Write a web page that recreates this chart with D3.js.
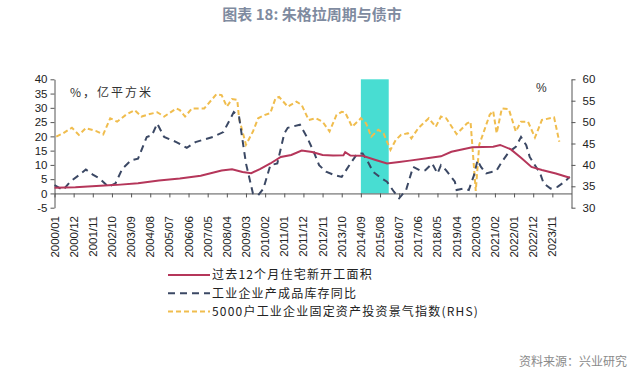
<!DOCTYPE html>
<html>
<head>
<meta charset="utf-8">
<script src="https://cdn.jsdelivr.net/npm/d3@7/dist/d3.min.js"></script>
<style>
  body { margin: 0; background: #fff; }
  svg { display: block; font-family: "Liberation Sans", "Noto Sans CJK SC", sans-serif; }
</style>
</head>
<body>
<svg id="chart" width="638" height="371"></svg>
<script>

// 过去12个月住宅新开工面积 (亿平方米, LHS)
var housingStarts = [
  ["2000/01", 2.0], ["2001/01", 2.2], ["2002/01", 2.6], ["2003/01", 3.0], ["2004/01", 3.6],
  ["2005/01", 4.5], ["2006/01", 5.2], ["2007/01", 6.2], ["2008/01", 8.0], ["2008/07", 8.5],
  ["2009/01", 7.5], ["2009/06", 7.1], ["2009/11", 8.5], ["2010/05", 10.5], ["2010/11", 12.8],
  ["2011/05", 13.5], ["2011/11", 15.0], ["2012/05", 14.5], ["2012/11", 13.5], ["2013/05", 13.3],
  ["2013/11", 13.4], ["2013/12", 14.5], ["2014/03", 13.3], ["2014/10", 13.2], ["2015/05", 11.8],
  ["2015/12", 10.5], ["2016/07", 11.0], ["2017/01", 11.5], ["2018/01", 12.5], ["2018/07", 13.0],
  ["2019/01", 14.6], ["2020/01", 16.2], ["2021/01", 16.4], ["2021/05", 17.0], ["2021/11", 15.5],
  ["2022/05", 12.5], ["2022/11", 9.3], ["2023/05", 8.2], ["2024/01", 7.0], ["2024/09", 5.5]
];

// 工业企业产成品库存同比 (%, LHS)
var inventoryYoY = [
  ["2000/01", 2.9], ["2000/06", 1.2], ["2000/10", 4.1], ["2001/03", 6.4], ["2001/07", 8.4],
  ["2001/11", 6.6], ["2002/03", 5.2], ["2002/08", 2.3], ["2002/12", 3.5], ["2003/04", 8.7],
  ["2003/09", 11.6], ["2004/01", 12.2], ["2004/06", 19.8], ["2004/09", 20.4], ["2004/12", 24.5],
  ["2005/04", 19.8], ["2005/11", 18.0], ["2006/05", 16.0], ["2006/10", 18.0], ["2007/08", 19.8],
  ["2008/02", 21.5], ["2008/08", 28.5], ["2008/11", 27.0], ["2009/03", 10.5], ["2009/07", 0.0],
  ["2009/10", -0.6], ["2010/01", 1.7], ["2010/05", 9.9], ["2010/09", 10.5], ["2011/01", 21.0],
  ["2011/03", 23.0], ["2011/10", 24.1], ["2012/02", 19.8], ["2012/06", 14.5], ["2012/09", 9.9],
  ["2013/01", 7.6], ["2013/06", 6.4], ["2013/10", 5.8], ["2014/03", 10.5], ["2014/07", 14.0],
  ["2014/10", 14.0], ["2015/01", 11.1], ["2015/04", 7.6], ["2015/09", 5.2], ["2015/12", 4.1],
  ["2016/04", 0.6], ["2016/07", -1.7], ["2016/11", 1.2], ["2017/03", 9.3], ["2017/07", 8.1],
  ["2017/10", 8.1], ["2018/02", 10.5], ["2018/05", 7.0], ["2018/07", 9.9], ["2018/10", 8.1],
  ["2019/03", 4.1], ["2019/04", 1.2], ["2019/08", 1.7], ["2019/11", 1.2], ["2020/02", 6.4],
  ["2020/04", 11.6], ["2020/06", 9.3], ["2020/09", 7.0], ["2020/12", 7.5], ["2021/03", 8.1],
  ["2021/06", 11.1], ["2021/10", 14.5], ["2022/02", 16.3], ["2022/05", 19.8], ["2022/08", 16.9],
  ["2022/10", 12.8], ["2023/01", 9.9], ["2023/04", 7.0], ["2023/06", 3.5], ["2023/10", 1.7],
  ["2024/02", 2.3], ["2024/06", 4.1], ["2024/09", 5.8]
];

// 5000户工业企业固定资产投资景气指数 (RHS)
var investIndex = [
  ["2000/02", 46.6], ["2000/06", 47.4], ["2000/11", 48.7], ["2001/03", 47.0], ["2001/07", 48.6],
  ["2002/01", 47.9], ["2002/05", 47.1], ["2002/09", 50.9], ["2003/01", 50.1], ["2003/06", 51.7],
  ["2003/11", 52.8], ["2004/03", 51.3], ["2004/07", 51.8], ["2004/12", 52.3], ["2005/04", 51.3],
  ["2005/11", 53.2], ["2006/01", 52.8], ["2006/04", 51.3], ["2006/08", 53.2], ["2007/03", 53.2],
  ["2007/10", 56.5], ["2008/01", 56.3], ["2008/04", 53.6], ["2008/07", 55.4], ["2008/10", 55.2],
  ["2008/11", 50.9], ["2009/03", 44.7], ["2009/07", 47.8], ["2009/10", 50.9], ["2010/02", 51.7],
  ["2010/05", 52.1], ["2010/08", 55.6], ["2010/10", 55.9], ["2011/03", 53.6], ["2011/08", 54.8],
  ["2011/11", 54.0], ["2012/03", 50.5], ["2012/07", 50.9], ["2012/11", 50.1], ["2013/03", 47.8],
  ["2013/07", 51.7], ["2013/10", 52.4], ["2013/12", 52.2], ["2014/04", 48.9], ["2014/09", 50.9],
  ["2014/12", 49.7], ["2015/03", 46.6], ["2015/07", 48.2], ["2015/10", 47.4], ["2016/02", 43.5],
  ["2016/05", 45.8], ["2016/08", 47.0], ["2016/12", 47.4], ["2017/02", 46.2], ["2017/06", 48.6],
  ["2017/12", 50.9], ["2018/04", 48.9], ["2018/07", 51.3], ["2018/10", 50.9], ["2019/04", 47.2],
  ["2019/10", 49.7], ["2019/12", 50.1], ["2020/03", 33.9], ["2020/05", 44.7], ["2020/08", 48.2],
  ["2020/11", 51.7], ["2021/01", 52.6], ["2021/03", 47.4], ["2021/06", 53.2], ["2021/10", 53.0],
  ["2022/02", 47.8], ["2022/05", 50.1], ["2022/09", 50.1], ["2023/01", 46.4], ["2023/05", 50.5],
  ["2023/12", 51.1], ["2024/03", 45.4]
];

var xTickLabels = [
  "2000/01", "2000/12", "2001/11", "2002/10", "2003/09", "2004/08", "2005/07", "2006/06",
  "2007/05", "2008/04", "2009/03", "2010/02", "2011/01", "2011/12", "2012/11", "2013/10",
  "2014/09", "2015/08", "2016/07", "2017/06", "2018/05", "2019/04", "2020/03", "2021/02",
  "2022/01", "2022/12", "2023/11"
];
var leftTicks = [-5, 0, 5, 10, 15, 20, 25, 30, 35, 40];
var rightTicks = [30, 35, 40, 45, 50, 55, 60];
var band = ["2014/09", "2016/01"];
var lastMonth = "2024/10";

var seriesNames = [
  "过去12个月住宅新开工面积",
  "工业企业产成品库存同比",
  "5000户工业企业固定资产投资景气指数(RHS)"
];

// month index from "YYYY/MM"
function mi(s) {
    return (+s.slice(0, 4) - 2000) * 12 + (+s.slice(5, 7) - 1);
}

var svg = d3.select('#chart');

var x = d3.scaleLinear()
    .domain([0, mi(lastMonth)])
    .range([54.5, 571.5]);

var yL = d3.scaleLinear()
    .domain([-5, 40])
    .range([207.7, 79.3]);

var yR = d3.scaleLinear()
    .domain([30, 60])
    .range([207.7, 79.3]);

// title
svg.append('text')
    .attr('x', 312)
    .attr('y', 20)
    .attr('text-anchor', 'middle')
    .style('font-family', '"Noto Sans CJK SC", sans-serif')
    .style('font-weight', 'bold')
    .style('font-size', '15px')
    .attr('fill', '#7f8ba0')
    .text('图表 18: 朱格拉周期与债市');

// shaded period
svg.append('rect')
    .attr('x', x(mi(band[0])))
    .attr('width', x(mi(band[1])) - x(mi(band[0])))
    .attr('y', yL(40))
    .attr('height', yL(0) - yL(40))
    .attr('fill', '#48ddd2');

// axes
svg.append('g')
    .attr('class', 'axis')
    .attr('transform', `translate(${x.range()[0]} 0)`)
    .call(d3.axisLeft(yL).tickValues(leftTicks).tickFormat(d => String(d))
        .tickSize(4).tickSizeOuter(0).tickPadding(3));

svg.append('g')
    .attr('class', 'axis')
    .attr('transform', `translate(${x.range()[1]} 0)`)
    .call(d3.axisRight(yR).tickValues(rightTicks).tickFormat(d => String(d))
        .tickSize(4).tickSizeOuter(0).tickPadding(7));

svg.append('g')
    .attr('class', 'axis')
    .attr('transform', `translate(0 ${yL(0)})`)
    .call(d3.axisBottom(x).tickValues(xTickLabels.map(mi)).tickSize(4).tickSizeOuter(0).tickFormat(''));

svg.selectAll('.axis path, .axis line')
    .attr('stroke', '#555');

svg.selectAll('.axis text')
    .style('font-size', '11.5px')
    .attr('fill', '#222');

// rotated month labels below the plot
svg.append('g')
    .selectAll('text')
    .data(xTickLabels)
    .join('text')
    .attr('transform', d => `translate(${x(mi(d))} 216) rotate(-90)`)
    .attr('dy', '0.35em')
    .attr('text-anchor', 'end')
    .style('font-size', '11.5px')
    .attr('fill', '#222')
    .text(d => d);

// unit labels
svg.append('text')
    .attr('x', 70)
    .attr('y', 97)
    .style('font-family', '"Noto Sans CJK SC", sans-serif')
    .style('font-size', '12px')
    .style('letter-spacing', '2px')
    .attr('fill', '#333')
    .text('%，亿平方米');

svg.append('text')
    .attr('x', 536)
    .attr('y', 92)
    .style('font-size', '12px')
    .attr('fill', '#333')
    .text('%');

// lines
var lineL = d3.line().x(d => x(mi(d[0]))).y(d => yL(d[1]));
var lineR = d3.line().x(d => x(mi(d[0]))).y(d => yR(d[1]));

var styles = [
    { color: '#b5365a', dash: null },
    { color: '#3b4864', dash: '7,5' },
    { color: '#f0bd4e', dash: '5,3' }
];

svg.append('path')
    .datum(investIndex)
    .attr('d', lineR)
    .attr('fill', 'none')
    .attr('stroke', styles[2].color)
    .attr('stroke-width', 2)
    .attr('stroke-dasharray', styles[2].dash);

svg.append('path')
    .datum(inventoryYoY)
    .attr('d', lineL)
    .attr('fill', 'none')
    .attr('stroke', styles[1].color)
    .attr('stroke-width', 2)
    .attr('stroke-dasharray', styles[1].dash);

svg.append('path')
    .datum(housingStarts)
    .attr('d', lineL)
    .attr('fill', 'none')
    .attr('stroke', styles[0].color)
    .attr('stroke-width', 2);

// legend
var legend = svg.append('g')
    .selectAll('g')
    .data(seriesNames)
    .join('g')
    .attr('transform', (d, i) => `translate(168 ${275 + i * 18.3})`);

legend.append('line')
    .attr('x1', 0)
    .attr('x2', 42)
    .attr('stroke', (d, i) => styles[i].color)
    .attr('stroke-width', 2)
    .attr('stroke-dasharray', (d, i) => styles[i].dash);

legend.append('text')
    .attr('x', 44)
    .attr('dy', '0.35em')
    .style('font-family', '"Noto Sans CJK SC", sans-serif')
    .style('font-size', '12px')
    .style('letter-spacing', '1.2px')
    .attr('fill', '#222')
    .text(d => d);

// source
svg.append('text')
    .attr('x', 627)
    .attr('y', 366)
    .attr('text-anchor', 'end')
    .style('font-family', '"Noto Sans CJK SC", sans-serif')
    .style('font-size', '12px')
    .attr('fill', '#8a8a8a')
    .text('资料来源：兴业研究');

</script>
</body>
</html>
